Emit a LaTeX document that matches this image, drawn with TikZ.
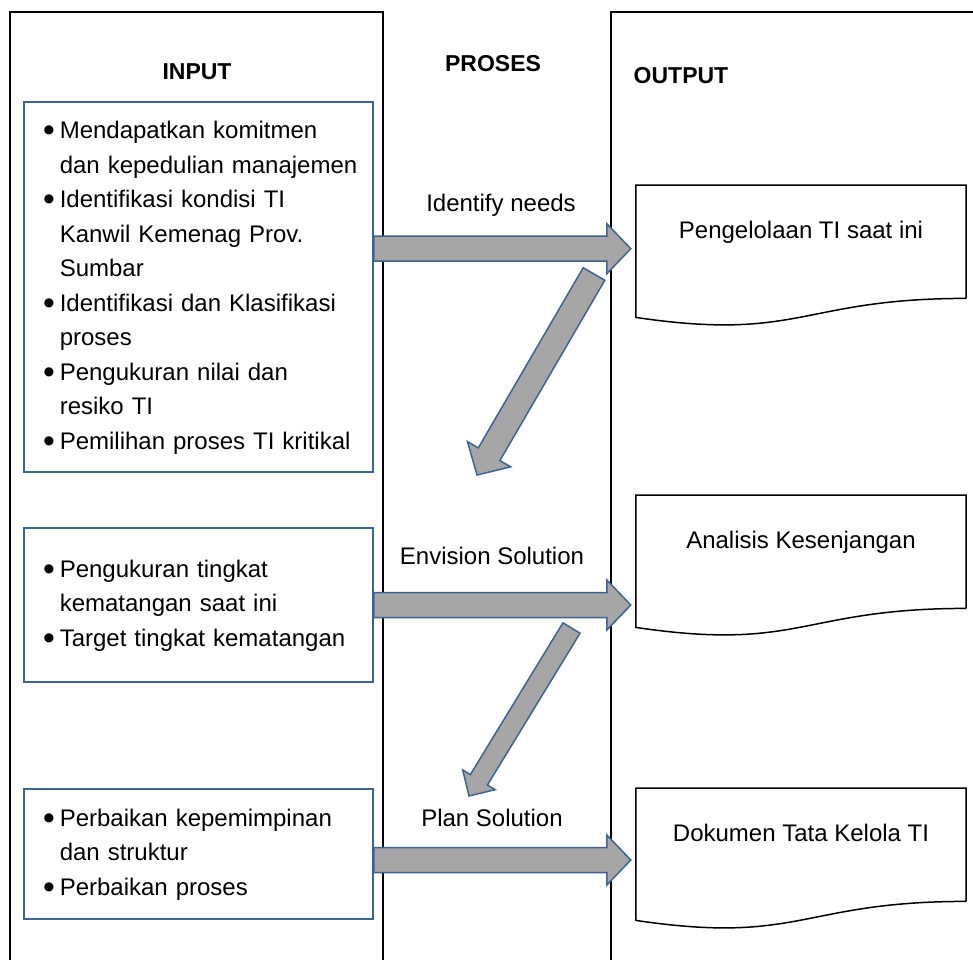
\documentclass[tikz,border=0pt]{standalone}
\usepackage{fontspec}
\setmainfont{Liberation Sans}
\usetikzlibrary{calc}

\definecolor{boxblue}{HTML}{3F6391}
\definecolor{arrowgray}{HTML}{A6A6A6}

\newcommand{\bul}{\raisebox{-3.2pt}{\scalebox{1.4}{\textbullet}}}

\tikzset{
  shaft/.store in=\shaftw, shaft=12.5,
  head/.store in=\headw, head=25,
  headlen/.store in=\headl, headlen=24,
  fatarrow/.style={draw=boxblue, fill=arrowgray, line width=1.5pt,
    to path={let \p1=(\tikztostart), \p2=(\tikztotarget),
      \n1={atan2(\y2-\y1,\x2-\x1)},
      \n2={veclen(\x2-\x1,\y2-\y1)-\headl pt} in
      ($(\p1)+(\n1+90:\shaftw pt)$)
      -- ($(\p1)+(\n1:\n2)+(\n1+90:\shaftw pt)$)
      -- ($(\p1)+(\n1:\n2)+(\n1+90:\headw pt)$)
      -- (\p2)
      -- ($(\p1)+(\n1:\n2)+(\n1-90:\headw pt)$)
      -- ($(\p1)+(\n1:\n2)+(\n1-90:\shaftw pt)$)
      -- ($(\p1)+(\n1-90:\shaftw pt)$) -- cycle}}
}

\begin{document}
\begin{tikzpicture}[x=1pt, y=-1pt,
    every node/.style = {font=\fontsize{24}{34.5}\selectfont},
    column/.style = {draw, line width=1.6pt},
    heading/.style = {font=\fontsize{23}{28}\selectfont\bfseries},
    inputbox/.style = {draw=boxblue, line width=1.5pt, minimum width=349pt,
      text width=311pt, inner xsep=19pt, align=left},
    docbox/.style = {anchor=north, minimum width=330pt, inner sep=0pt,
      text height=53pt, text depth=60pt},
    docline/.style = {draw, line width=1.5pt}]
    \useasboundingbox (0,0) rectangle (973,959);

    \draw[column] (10,975) |- (383,12) -- (383,975);
    \draw[column] (611,975) |- (990,12);

    \node[heading] (input) at (197,72) {INPUT};
    \node[heading] (proses) at (493,64) {PROSES};
    \node[heading] (output) at (681,76) {OUTPUT};

    \node[inputbox, minimum height=370pt] (in1) at (198.5,287) {%
      \begin{tabular}{@{}l@{\hspace{5pt}}l@{}}
        \bul & Mendapatkan komitmen\\
          & dan kepedulian manajemen\\
        \bul & Identifikasi kondisi TI\\
          & Kanwil Kemenag Prov.\\
          & Sumbar\\
        \bul & Identifikasi dan Klasifikasi\\
          & proses\\
        \bul & Pengukuran nilai dan\\
          & resiko TI\\
        \bul & Pemilihan proses TI kritikal
      \end{tabular}};
    \node[inputbox, minimum height=154pt] (in2) at (198.5,605) {%
      \begin{tabular}{@{}l@{\hspace{5pt}}l@{}}
        \bul & Pengukuran tingkat\\
          & kematangan saat ini\\
        \bul & Target tingkat kematangan
      \end{tabular}};
    \node[inputbox, minimum height=130pt] (in3) at (198.5,854) {%
      \begin{tabular}{@{}l@{\hspace{5pt}}l@{}}
        \bul & Perbaikan kepemimpinan\\
          & dan struktur\\
        \bul & Perbaikan proses
      \end{tabular}};

    \node[docbox] (doc1) at (801,185) {Pengelolaan TI saat ini};
    \node[docbox] (doc2) at (801,495) {Analisis Kesenjangan};
    \node[docbox] (doc3) at (801,788) {Dokumen Tata Kelola TI};
    \foreach \d in {doc1,doc2,doc3}
      \draw[docline] (\d.south east) -- (\d.north east) -- (\d.north west)
        -- ([yshift=-19pt]\d.south west)
        .. controls ([yshift=-43.5pt]\d.south) and (\d.south) .. (\d.south east);

    \node (identify) at (501,205) {Identify needs};
    \node (envision) at (492,556) {Envision Solution};
    \node (plan) at (492,818) {Plan Solution};

    \coordinate (gap1) at (594,274);
    \coordinate (step2) at (477,475);
    \coordinate (gap2) at (571.5,628);
    \coordinate (step3) at (469,796);
    \draw[fatarrow] (gap1) to (step2);
    \draw[fatarrow, shaft=10, head=19, headlen=19] (gap2) to (step3);

    \draw[fatarrow] ([yshift=-7pt]in1.east |- doc1.west) to ([shift={(-5pt,-7pt)}]doc1.west);
    \draw[fatarrow] (in2.east) to ([xshift=-5pt]in2.east -| doc2.west);
    \draw[fatarrow] ([yshift=-6pt]in3.east) to ([shift={(-5pt,-6pt)}]in3.east -| doc3.west);
\end{tikzpicture}
\end{document}
